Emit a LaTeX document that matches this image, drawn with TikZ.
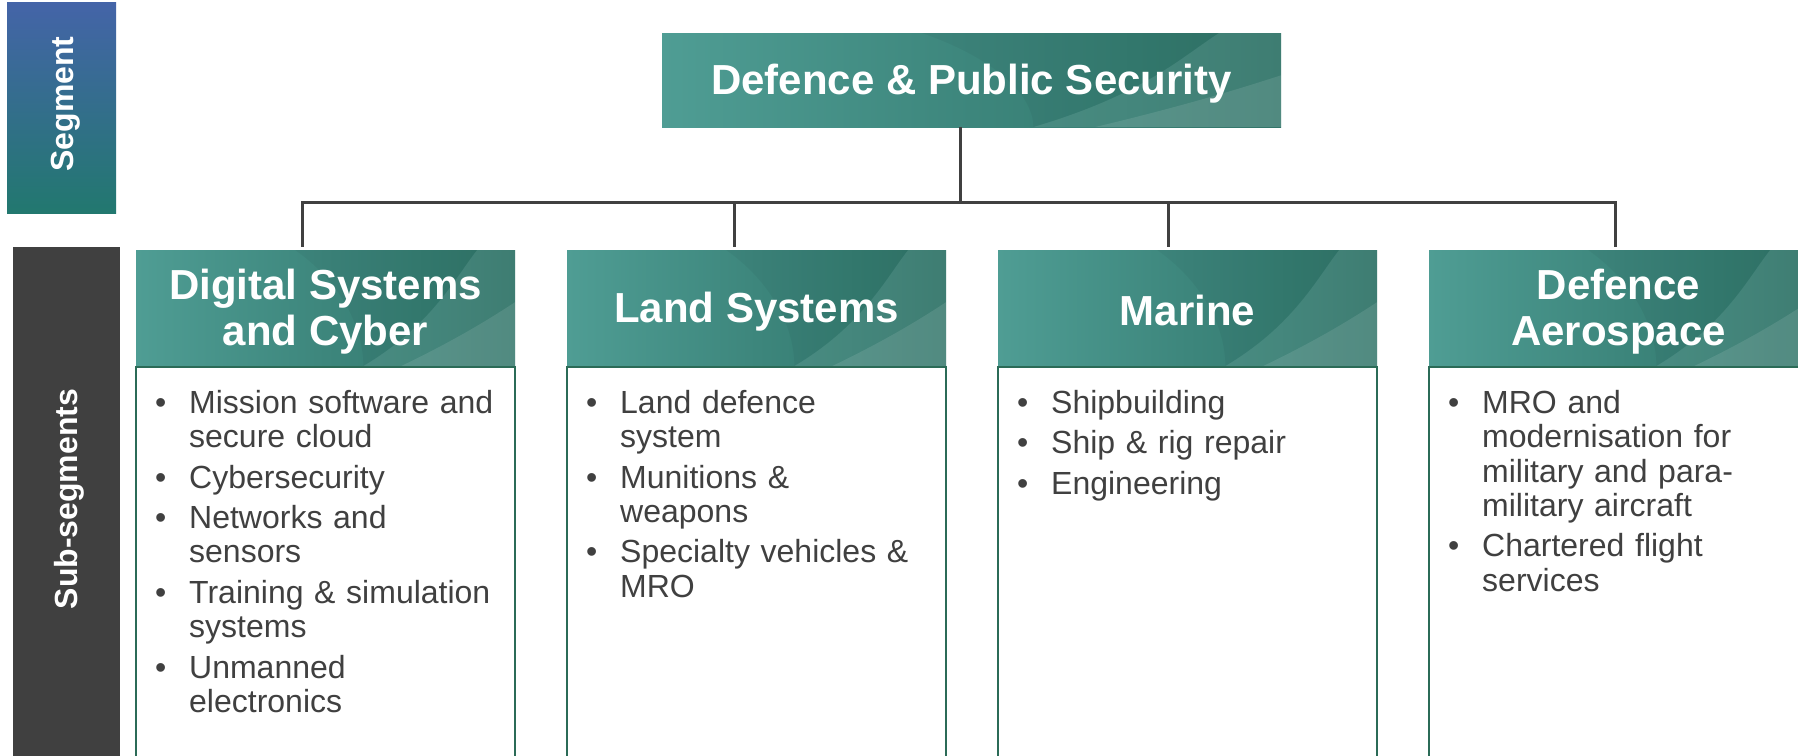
\documentclass[tikz,border=0pt]{standalone}
\usepackage{fontspec}
\setmainfont{Liberation Sans}
\newfontfamily\hdfont{Liberation Sans}
\definecolor{segTop}{HTML}{4464A8}
\definecolor{segBot}{HTML}{22786F}
\definecolor{subGray}{HTML}{404040}
\definecolor{hdL}{HTML}{4F9D94}
\definecolor{hdM}{HTML}{3D867C}
\definecolor{hdD}{HTML}{2E7367}
\definecolor{txtGray}{HTML}{404040}
\definecolor{bodyLine}{HTML}{2B6B57}
\definecolor{connGray}{HTML}{404040}

\newcommand\hdswoosh[2]{%
  \shade[left color=hdL, right color=hdD, middle color=hdM]
    (path picture bounding box.south west) rectangle (path picture bounding box.north east);
  \fill[white, opacity=0.08]
    ([xshift={0.60*#1}]path picture bounding box.south west)
    .. controls ([xshift={0.78*#1},yshift={0.35*#2}]path picture bounding box.south west)
    and ([xshift={0.84*#1},yshift={0.75*#2}]path picture bounding box.south west)
    .. ([xshift={0.90*#1},yshift={#2}]path picture bounding box.south west)
    -- (path picture bounding box.north east) -- (path picture bounding box.south east) -- cycle;
  \fill[white, opacity=0.10]
    ([xshift={0.70*#1}]path picture bounding box.south west)
    .. controls ([xshift={0.84*#1},yshift={0.22*#2}]path picture bounding box.south west)
    and ([xshift={0.93*#1},yshift={0.40*#2}]path picture bounding box.south west)
    .. ([xshift={#1},yshift={0.55*#2}]path picture bounding box.south west)
    -- (path picture bounding box.south east) -- cycle;
  \fill[black, opacity=0.04]
    ([xshift={0.42*#1},yshift={#2}]path picture bounding box.south west)
    .. controls ([xshift={0.55*#1},yshift={0.7*#2}]path picture bounding box.south west)
    and ([xshift={0.60*#1},yshift={0.3*#2}]path picture bounding box.south west)
    .. ([xshift={0.60*#1}]path picture bounding box.south west)
    .. controls ([xshift={0.78*#1},yshift={0.35*#2}]path picture bounding box.south west)
    and ([xshift={0.84*#1},yshift={0.75*#2}]path picture bounding box.south west)
    .. ([xshift={0.90*#1},yshift={#2}]path picture bounding box.south west) -- cycle;
}

\newcommand\firstitm[1]{\hangindent=34pt\hangafter=1\noindent\makebox[34pt][l]{\textbullet}#1\par}
\newcommand\itm[1]{\vspace{6pt}\firstitm{#1}}

\begin{document}
\begin{tikzpicture}[x=1pt,y=-1pt,
  hdr/.style 2 args={minimum width=#1pt, minimum height=#2pt, inner sep=0pt,
    path picture={\hdswoosh{#1}{#2}}},
  hdrtxt/.style={inner sep=0pt, align=center, text=white,
    font=\hdfont\bfseries\fontsize{42}{46}\selectfont},
  bodybox/.style={draw=bodyLine, line width=2pt, fill=white, minimum width=379pt,
    minimum height=430pt, inner sep=0pt, anchor=north},
  bodytxt/.style={anchor=base west, text width=350pt, align=left, inner sep=0pt,
    text=txtGray, font=\fontsize{32}{34.4}\selectfont},
  conn/.style={draw=connGray, line width=3pt},
  vlab/.style={rotate=90, text=white, font=\bfseries\fontsize{32}{36}\selectfont, inner sep=0pt},
  segbox/.style={minimum width=109pt, minimum height=211pt, inner sep=0pt,
    top color=segTop, bottom color=segBot, draw=none},
  subbox/.style={minimum width=107pt, minimum height=540pt, inner sep=0pt,
    fill=subGray, draw=none, anchor=north}
]
\useasboundingbox (0,0) rectangle (1798,755);
\fill[white] (0,0) rectangle (1798,755);
\clip (0,0) rectangle (1798,755);

% side labels
\node[segbox] (seg) at (61.5,107.5) {};
\node[vlab] (segl) at (66,104) {Segment};
\node[subbox] (sub) at (66.5,247) {};
\node[vlab] (subl) at (69.5,499) {Sub-segments};

% top
\node[hdr={619}{94}] (top) at (971.5,80) {};
\node[hdrtxt] (topt) at ([yshift=-4pt]top.center) {Defence \& Public Security};

% headers
\node[hdr={379}{116}] (h1) at (325.5,308) {};
\node[hdr={379}{116}] (h2) at (756.5,308) {};
\node[hdr={379}{116}] (h3) at (1187.5,308) {};
\node[hdr={379}{116}] (h4) at (1618.5,308) {};
\node[hdrtxt] (h1t) at ([yshift=-3.5pt]h1.center) {Digital Systems\\and Cyber};
\node[hdrtxt] (h2t) at ([yshift=-3.5pt]h2.center) {Land Systems};
\node[hdrtxt] (h3t) at ([yshift=-2pt]h3.center) {Marine};
\node[hdrtxt] (h4t) at ([yshift=-3.5pt]h4.center) {Defence\\Aerospace};

% bodies
\node[bodybox] (b1) at (h1.south) {};
\node[bodybox] (b2) at (h2.south) {};
\node[bodybox] (b3) at (h3.south) {};
\node[bodybox] (b4) at (h4.south) {};

\node[bodytxt] (l1) at ([xshift=20pt,yshift=-47pt]b1.north west) {%
  \firstitm{Mission software and\newline secure cloud}%
  \itm{Cybersecurity}%
  \itm{Networks and\newline sensors}%
  \itm{Training \& simulation\newline systems}%
  \itm{Unmanned\newline electronics}};
\node[bodytxt] (l2) at ([xshift=20pt,yshift=-47pt]b2.north west) {%
  \firstitm{Land defence\newline system}%
  \itm{Munitions \&\newline weapons}%
  \itm{Specialty vehicles \&\newline MRO}};
\node[bodytxt] (l3) at ([xshift=20pt,yshift=-47pt]b3.north west) {%
  \firstitm{Shipbuilding}%
  \itm{Ship \& rig repair}%
  \itm{Engineering}};
\node[bodytxt] (l4) at ([xshift=20pt,yshift=-47pt]b4.north west) {%
  \firstitm{MRO and\newline modernisation for\newline military and para-\newline military aircraft}%
  \itm{Chartered flight\newline services}};

% connectors
\coordinate (t0) at (960,202);
\coordinate (t1) at (302,202);
\coordinate (t2) at (734,202);
\coordinate (t3) at (1168,202);
\coordinate (t4) at (1615,202);
\path (t1 |- h1.north) coordinate (e1);
\path (t2 |- h2.north) coordinate (e2);
\path (t3 |- h3.north) coordinate (e3);
\path (t4 |- h4.north) coordinate (e4);
\draw[conn] (top.south -| t0) -- (t0);
\draw[conn] ([yshift=3pt]e1) -- (t1) -- (t4) -- ([yshift=3pt]e4);
\draw[conn] (t2) -- ([yshift=3pt]e2);
\draw[conn] (t3) -- ([yshift=3pt]e3);
\end{tikzpicture}
\end{document}
